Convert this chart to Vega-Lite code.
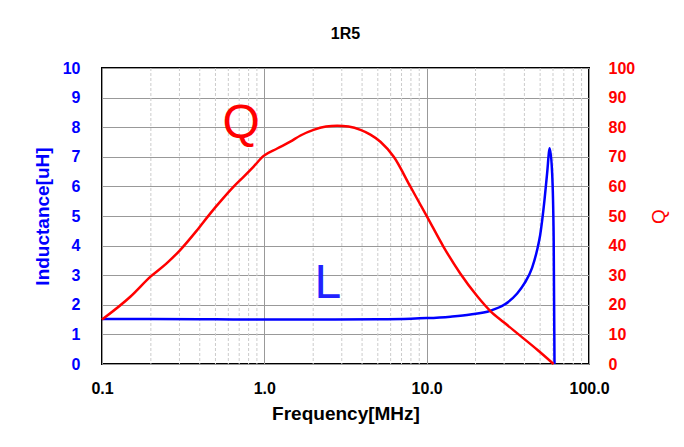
{
  "$schema": "https://vega.github.io/schema/vega-lite/v6.json",
  "width": 487,
  "height": 296,
  "autosize": "none",
  "padding": {"left": 102, "top": 68, "right": 95, "bottom": 83},
  "background": "white",
  "title": {"text": "1R5", "font": "Liberation Sans", "fontSize": 16, "fontWeight": "bold", "color": "black", "offset": 18},
  "datasets": {
    "minor": [
      {"f": 0.2}, {"f": 0.3}, {"f": 0.4}, {"f": 0.5}, {"f": 0.6}, {"f": 0.7}, {"f": 0.8}, {"f": 0.9},
      {"f": 2}, {"f": 3}, {"f": 4}, {"f": 5}, {"f": 6}, {"f": 7}, {"f": 8}, {"f": 9},
      {"f": 20}, {"f": 30}, {"f": 40}, {"f": 50}, {"f": 60}, {"f": 70}, {"f": 80}, {"f": 90}
    ],
    "L": [
      {"f": 0.1, "L": 1.52}, {"f": 0.2, "L": 1.52}, {"f": 0.5, "L": 1.51}, {"f": 1, "L": 1.5},
      {"f": 2, "L": 1.5}, {"f": 5, "L": 1.51}, {"f": 8, "L": 1.53}, {"f": 10, "L": 1.55},
      {"f": 14, "L": 1.6}, {"f": 18.6, "L": 1.67}, {"f": 24.7, "L": 1.8}, {"f": 30, "L": 2.0},
      {"f": 36.1, "L": 2.38}, {"f": 40, "L": 2.72}, {"f": 44.6, "L": 3.25}, {"f": 47.9, "L": 3.85},
      {"f": 50, "L": 4.35}, {"f": 53.1, "L": 5.5}, {"f": 55.2, "L": 6.44}, {"f": 57.3, "L": 7.29},
      {"f": 59.3, "L": 6.44}, {"f": 60.6, "L": 4.19}, {"f": 61.3, "L": 0}
    ],
    "Q": [
      {"f": 0.1, "Q": 15}, {"f": 0.15, "Q": 22.8}, {"f": 0.199, "Q": 29.5}, {"f": 0.25, "Q": 34}, {"f": 0.303, "Q": 38.5},
      {"f": 0.38, "Q": 44.8}, {"f": 0.465, "Q": 50.9}, {"f": 0.55, "Q": 55.6},
      {"f": 0.647, "Q": 59.9}, {"f": 0.75, "Q": 63.4}, {"f": 0.859, "Q": 66.7}, {"f": 0.99, "Q": 70.3}, {"f": 1.2, "Q": 72.8}, {"f": 1.445, "Q": 75.1},
      {"f": 1.67, "Q": 77.2}, {"f": 2.01, "Q": 79.1}, {"f": 2.4, "Q": 80.2}, {"f": 2.81, "Q": 80.5}, {"f": 3.3, "Q": 80.2}, {"f": 3.91, "Q": 79.1}, {"f": 4.5, "Q": 77.5}, {"f": 5.19, "Q": 75.1},
      {"f": 6.27, "Q": 70}, {"f": 7.94, "Q": 59.9}, {"f": 10.05, "Q": 49.8}, {"f": 12.7, "Q": 39.6},
      {"f": 16.1, "Q": 30.6}, {"f": 20.5, "Q": 22.9}, {"f": 24.7, "Q": 17.9}, {"f": 30, "Q": 14}, {"f": 37.8, "Q": 9.5},
      {"f": 48, "Q": 4.8}, {"f": 60.5, "Q": 0}
    ],
    "labels": [
      {"f": 0.721, "v": 7.64, "t": "Q", "c": "Q"},
      {"f": 2.46, "v": 2.23, "t": "L", "c": "L"}
    ]
  },
  "layer": [
    {
      "data": {"name": "minor"},
      "mark": {"type": "rule", "color": "#cccccc", "strokeWidth": 1, "strokeDash": [3, 2]},
      "encoding": {
        "x": {"field": "f", "type": "quantitative", "scale": {"type": "log", "domain": [0.1, 100], "nice": false},
              "axis": {"values": [0.1, 1, 10, 100], "format": ".1f", "title": "Frequency[MHz]"}}
      }
    },
    {
      "data": {"name": "L"},
      "mark": {"type": "line", "color": "#0000ff", "strokeWidth": 2.5, "interpolate": "monotone"},
      "encoding": {
        "x": {"field": "f", "type": "quantitative", "scale": {"type": "log", "domain": [0.1, 100], "nice": false},
              "axis": {"values": [0.1, 1, 10, 100], "format": ".1f", "title": "Frequency[MHz]"}},
        "y": {"field": "L", "type": "quantitative", "scale": {"domain": [0, 10], "nice": false},
              "axis": {"orient": "left", "values": [0,1,2,3,4,5,6,7,8,9,10], "title": "Inductance[uH]", "grid": true,
                       "labelColor": "#0000ff", "titleColor": "#0000ff", "labelPadding": 22, "titlePadding": 10}}
      }
    },
    {
      "data": {"name": "Q"},
      "mark": {"type": "line", "color": "#ff0000", "strokeWidth": 2.5, "interpolate": "monotone"},
      "encoding": {
        "x": {"field": "f", "type": "quantitative", "scale": {"type": "log", "domain": [0.1, 100], "nice": false},
              "axis": {"values": [0.1, 1, 10, 100], "format": ".1f", "title": "Frequency[MHz]"}},
        "y": {"field": "Q", "type": "quantitative", "scale": {"domain": [0, 100], "nice": false},
              "axis": {"orient": "right", "values": [0,10,20,30,40,50,60,70,80,90,100], "title": "Q", "grid": false,
                       "labelColor": "#ff0000", "titleColor": "#ff0000", "labelPadding": 19,
                       "titleAngle": 270, "titleFontWeight": "normal", "titleX": 69, "titleY": 148,
                       "titleAlign": "center", "titleBaseline": "middle"}}
      }
    },
    {
      "data": {"name": "labels"},
      "mark": {"type": "text", "font": "Liberation Sans", "fontSize": 48, "baseline": "alphabetic", "align": "center"},
      "encoding": {
        "x": {"field": "f", "type": "quantitative", "scale": {"type": "log", "domain": [0.1, 100], "nice": false},
              "axis": {"values": [0.1, 1, 10, 100], "format": ".1f", "title": "Frequency[MHz]"}},
        "y": {"field": "v", "type": "quantitative", "scale": {"domain": [0, 10], "nice": false}, "axis": null},
        "text": {"field": "t"},
        "color": {"field": "c", "type": "nominal", "scale": {"domain": ["Q", "L"], "range": ["#ff0000", "#2222ff"]}, "legend": null}
      }
    }
  ],
  "resolve": {"scale": {"y": "independent"}},
  "config": {
    "view": {"stroke": "black", "strokeWidth": 2},
    "axis": {
      "labelFont": "Liberation Sans", "titleFont": "Liberation Sans",
      "labelFontWeight": "bold", "titleFontWeight": "bold",
      "labelFontSize": 16, "titleFontSize": 19,
      "ticks": false, "domain": false, "labelOverlap": false, "labelFlush": false, "labelBound": false,
      "gridColor": "#999999", "gridWidth": 1, "gridOpacity": 1
    },
    "axisX": {"labelColor": "black", "titleColor": "black", "labelPadding": 16, "titlePadding": 8, "grid": true}
  }
}
